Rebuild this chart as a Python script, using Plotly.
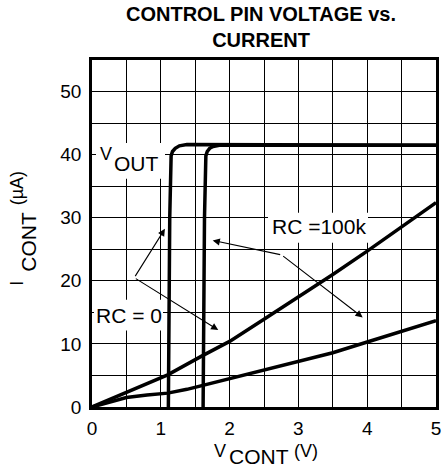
import plotly.graph_objects as go

# ---------------- data ----------------
v_vout_rc0 = [1.11, 1.115, 1.13, 1.15, 1.17, 1.21, 1.27, 1.38, 2.0, 3.0, 4.0, 5.0]
i_vout_rc0 = [0, 15, 30, 39.8, 40.5, 41.0, 41.4, 41.6, 41.6, 41.5, 41.5, 41.5]

v_vout_rc100k = [1.615, 1.62, 1.635, 1.655, 1.675, 1.71, 1.76, 1.85, 2.5, 3.5, 4.5, 5.0]
i_vout_rc100k = [0, 15, 30, 39.8, 40.5, 41.0, 41.3, 41.5, 41.5, 41.5, 41.5, 41.5]

v_icont_rc0 = [0, 0.5, 1.1, 1.6, 2.0, 2.5, 3.0, 3.5, 4.0, 4.5, 5.0]
i_icont_rc0 = [0, 2.3, 5.1, 8.1, 10.4, 13.9, 17.4, 21.0, 24.7, 28.5, 32.4]

v_icont_rc100k = [0, 0.25, 0.5, 0.8, 1.1, 1.38, 1.6, 2.0, 2.5, 3.0, 3.5, 4.0, 4.5, 5.0]
i_icont_rc100k = [0, 0.8, 1.5, 1.9, 2.2, 2.8, 3.4, 4.4, 5.8, 7.1, 8.6, 10.3, 12.0, 13.7]

x_ticks = [0, 1, 2, 3, 4, 5]
y_ticks = [0, 10, 20, 30, 40, 50]

# arrows: (tail_x, tail_y, head_x, head_y) in data units
arrows_rc0 = [(0.615, 20.5, 1.06, 28.25), (0.615, 20.5, 1.835, 12.2)]
arrows_rc100k = [(2.757, 24.1, 1.754, 26.4), (2.757, 24.1, 3.934, 14.2)]

FONT = "Liberation Sans, Arial, sans-serif"

# ---------------- figure ----------------
fig = go.Figure()
for xs, ys in [(v_vout_rc0, i_vout_rc0), (v_vout_rc100k, i_vout_rc100k),
               (v_icont_rc0, i_icont_rc0), (v_icont_rc100k, i_icont_rc100k)]:
    fig.add_trace(go.Scatter(x=xs, y=ys, mode="lines",
                             line=dict(color="black", width=3.5),
                             showlegend=False, hoverinfo="skip"))

L, R, T, B = 92, 436, 60, 407.5
def px(xp):
    return (xp - L) / (R - L)
def py(yp):
    return (B - yp) / (B - T)

annotations = []
def txt(text, xp, yp, size, angle=0, bold=False, xanchor="center"):
    if bold:
        text = "<b>" + text + "</b>"
    annotations.append(dict(text=text, x=px(xp), y=py(yp), xref="paper", yref="paper",
                            showarrow=False, xanchor=xanchor, yanchor="middle",
                            textangle=angle,
                            font=dict(family=FONT, size=size, color="black")))

# title
txt("CONTROL PIN VOLTAGE vs.<br>CURRENT", 261, 27, 20, bold=True)

# x axis title pieces
txt("V", 220, 452, 18)
txt("CONT", 258.5, 457.5, 21)
txt("(V)", 305.5, 452, 18)

# y axis title pieces (rotated)
txt("I", 17, 284, 18, angle=-90)
txt("CONT", 28.5, 242.5, 21, angle=-90)
txt("(µA)", 16.5, 189, 18, angle=-90)

# label text pieces
txt("V", 106, 154, 18)
txt("OUT", 136, 163.5, 21)
txt("RC = 0", 128.5, 316, 21)
txt("RC =100k", 319, 227, 21)

for tx, ty, hx, hy in arrows_rc0 + arrows_rc100k:
    annotations.append(dict(x=hx, y=hy, ax=tx, ay=ty, xref="x", yref="y",
                            axref="x", ayref="y", text="", showarrow=True,
                            arrowhead=2, arrowsize=1.3, arrowwidth=1.1,
                            arrowcolor="black", standoff=0, startstandoff=0))

# white backgrounds behind labels
shapes = []
for x0, y0, x1, y1 in [(96, 143, 165, 179), (94, 300, 163, 331), (268, 213, 368, 243)]:
    shapes.append(dict(type="rect", xref="paper", yref="paper",
                       x0=px(x0), x1=px(x1), y0=py(y1), y1=py(y0),
                       fillcolor="white", line=dict(width=0), layer="above"))

fig.update_layout(
    width=443, height=469,
    margin=dict(l=L, r=443 - R, t=T, b=469 - B, autoexpand=False),
    paper_bgcolor="white", plot_bgcolor="white",
    font=dict(family=FONT, color="black"),
    annotations=annotations, shapes=shapes,
    xaxis=dict(range=[0, 5], tickvals=x_ticks, showgrid=True, gridcolor="black",
               gridwidth=1.2, minor=dict(dtick=0.5, tick0=0, showgrid=True,
                                         gridcolor="black", gridwidth=1.2),
               showline=True, mirror=True, linecolor="black", linewidth=2.7,
               zeroline=False, ticks="", ticklabelstandoff=2,
               tickfont=dict(size=19, family=FONT, color="black")),
    yaxis=dict(range=[0, 55], tickvals=y_ticks, showgrid=True, gridcolor="black",
               gridwidth=1.2, minor=dict(dtick=5, tick0=0, showgrid=True,
                                         gridcolor="black", gridwidth=1.2),
               showline=True, mirror=True, linecolor="black", linewidth=2.7,
               zeroline=False, ticks="", ticklabelstandoff=4,
               tickfont=dict(size=19, family=FONT, color="black")),
)

fig.write_html("out.html", config={"displayModeBar": False},
               post_script="document.body.style.margin='0';document.body.style.overflow='hidden';")
